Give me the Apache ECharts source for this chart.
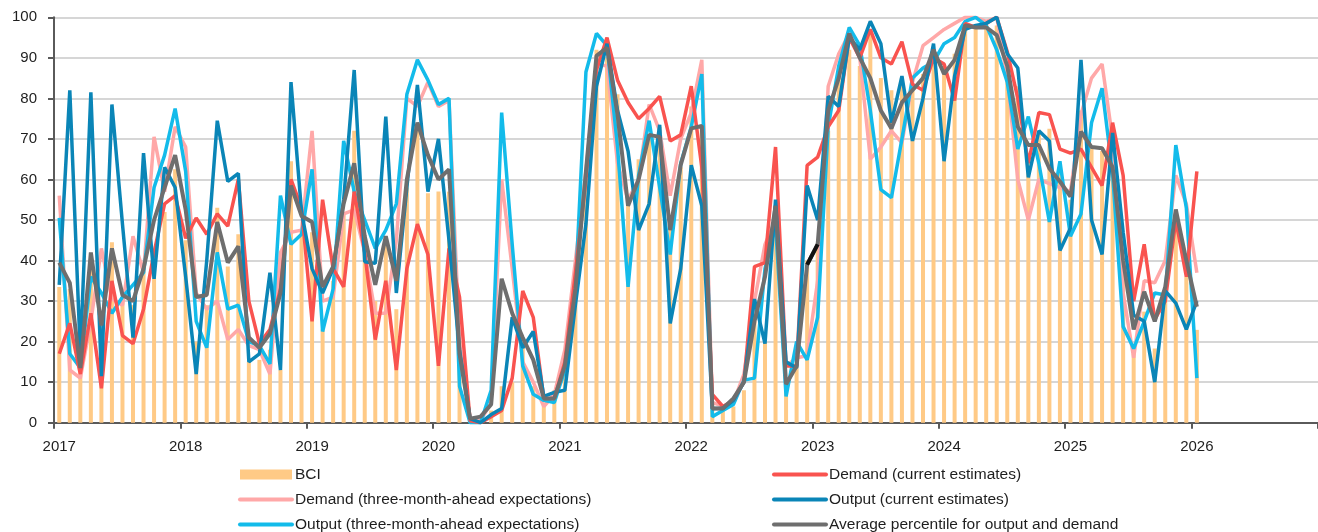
<!DOCTYPE html>
<html>
<head>
<meta charset="utf-8">
<script src="https://cdn.jsdelivr.net/npm/echarts@6/dist/echarts.min.js"></script>
<style>
html,body{margin:0;padding:0;background:#fff;}
#chart{width:1318px;height:532px;}
</style>
</head>
<body>
<div id="chart"></div>
<script>
// ---- data (monthly, Jan 2017 .. Jan 2026) ----
const years = ['2017','2018','2019','2020','2021','2022','2023','2024','2025','2026'];
const months = ['01','02','03','04','05','06','07','08','09','10','11','12'];

const bci = [33.5,33,14,40,25,44.5,31,29,38,37,52,62.5,
  45,20,29,53,38.5,46.5,15,15.5,18,13,64.5,47.5,
  47,23,35,51.5,72,45,30,45,28,58,73,56.6,
  57,57,20,0.5,0.5,3,9,10,20,9,5,8,
  17,36,60,92,90,81,55,65,70,73,48,63,
  78,73,4,3,4,8,25,20,53,10,15,40,
  44,72,85,92,88,97,85,82,85,83,86,89,
  88,91,97,98,98.5,98,88,83,65,72,72.5,64,
  55,77,68,67,62,40,17,27.4,18.3,33,51.6,36,
  22.9];

const demandCurrent = [17,24.5,12,27,8.5,35,21.5,19.5,28,42,54,56,
  45.5,50.5,46.5,51.5,48.5,60,30,19.5,23,33,60,53,
  25,55,38,33.5,57,42,20.5,35,13,38,49,41.5,
  14,43,31,0.5,0,1.5,3,11,32.5,26,6,6,
  15,37,60,87,95,84.5,79,75,77.5,80.5,69.5,71,
  83,63,7,4,5.5,10,38.5,39.5,68,14,14,63.5,
  65.5,73,77,95,90,97,90,88.5,94,83.5,82,90,
  88.5,79.5,98.5,97.5,98.5,100,91.5,80,64,76.5,76,67.5,
  66.5,67.5,63,58.5,74,61,30,44,25.5,30,50,36,
  62];

const demandAhead = [56,13,11,25,43,30.5,29,46,37,70.5,57,73,
  68,32,28,30,20.5,23,19,18,12,42,47,47.5,
  72,30,31,51.5,52.5,42,27,27,45,80,78,84,
  78,79.5,20,1,0.5,5,60,38,15,10,4,7,
  18,40,62,88.5,88,64,55,60,78.5,72,56,70,
  76.5,89.5,5,4,5,12,30,44,50,14,16,16.5,
  35,83,91,96,90,65,68,72,69,84,93,95,
  97,98.5,100,100,99,100,85,60,50,60,59,58,
  57,76,85,88.5,70,32,16,35,34.5,40,61,54,
  37];

const outputCurrent = [34,82,17,81.5,11.5,78.5,49,21,66.5,35.5,63,58,
  36,12,40,74.5,59.5,61.5,15,17,37,13,84,52,
  38,32,38,55,87,39.7,39.3,75.5,32,58,83.3,57,
  70,45,18,1,0,2,3.5,26,18.5,22.5,6.5,7.5,
  8,29,49,83,93.5,77,67,47.5,54,73.5,24.5,38,
  63.5,53.5,3.5,3.5,5.5,10,30.5,19.5,55,15,13.5,58.5,
  50,80.5,78,95,92,99,93.5,74,85.5,69.5,80,93.5,
  64.5,85.5,97,98,98.5,100,91,87.5,60.5,72,69.5,42.5,
  48,89.5,50,41.5,71.5,47,26.5,25,10,32.5,29.5,23,
  30];

const outputAhead = [50.5,17,13.5,36,32,27,31,34,37,58,66,77.5,
  62,25,18.5,42,28,29,20,19,14.5,56,44,46.5,
  62.5,22.5,33,69.5,57,50,43,47.5,54,81,89.5,84.5,
  78.5,80,9,0,0,8,76.5,44,14,7,5.5,5,
  13,33,86.5,96,93,68,33.5,61,74.5,58,41.5,64,
  73,86,1.5,3,4.5,10.5,11,38,49,6.5,20,15.5,
  26,73,88,97.5,93,77,57.5,55.5,70,85,87.5,89,
  93.5,95,99,100,98,92,84,67.5,75.5,64,49.5,64.5,
  46,51.5,74,82.5,61.5,23.7,18.3,25,32,31.5,68.5,53,
  11];

const avgPercentile = [39.5,34.5,13.5,42,24,43,31.5,30,38,50,58,66,
  52.5,31,31.5,49.5,39.5,43.5,21,18.5,22,32,58.5,51,
  49.5,33.5,38.5,54,64,46,34,46,35,60,74,66,
  60,62.5,17,1,1.5,4.5,35.5,27,21,15.5,6,6,
  14,33,62,90.5,92.5,76,53.5,60,71,70.5,47.5,63.6,
  72.6,73.2,3.5,3.5,6,10,25,36,53.5,9.5,14,39,
  44,77,85,96,90,85,77,72.6,79,82,85,92,
  86,89.5,98,97.5,97.5,95.6,88,73,68.5,68.5,62.7,59.5,
  55.8,71.8,68,67.7,63,40,23,32.3,25,33.5,52.6,40,
  28.6];

// the average line is drawn black between these two months in the source
const avgBlackFrom = '2022-12';
const avgBlackTo = '2023-01';

// category axis: every month Jan 2017 .. Dec 2026
const categories = [];
years.forEach(y => months.forEach(m => categories.push(y + '-' + m)));

const FONT = '"Liberation Sans", Arial, sans-serif';
const TXT = '#1e1e1e';

const C_BCI = '#FFCA86';
const C_DC = '#F9534F';
const C_DA = '#FFA8A8';
const C_OC = '#0A85B7';
const C_OA = '#13BBEA';
const C_AV = '#6E6E6E';

const chart = echarts.init(document.getElementById('chart'), null, {renderer: 'canvas'});

function lineSeries(name, data, color, width, z) {
  return {
    name: name, type: 'line', data: data, symbol: 'none', z: z,
    lineStyle: {color: color, width: width},
    itemStyle: {color: color},
    emphasis: {disabled: true}
  };
}

const hidden = {opacity: 0};
const legendCommon = {
  orient: 'vertical',
  itemWidth: 52,
  itemHeight: 10,
  itemGap: 8,
  height: 120,
  textStyle: {fontFamily: FONT, fontSize: 15.5, color: TXT, lineHeight: 17, padding: [0,0,0,-2]},
  padding: 0,
  selectedMode: false,
  lineStyle: {width: 4, cap: 'round'}
};

const bFrom = categories.indexOf(avgBlackFrom);
const bTo = categories.indexOf(avgBlackTo);
const avgBlack = avgPercentile.map((v, i) => (i >= bFrom && i <= bTo) ? v : null);

chart.setOption({
  animation: false,
  backgroundColor: '#fff',
  grid: {left: 54, right: -6, top: 17.3, bottom: 109.3, containLabel: false},
  legend: [
    Object.assign({}, legendCommon, {left: 238, top: 466, data: [
      {name: 'BCI', icon: 'rect'},
      {name: 'Demand (three-month-ahead expectations)', itemStyle: hidden},
      {name: 'Output (three-month-ahead expectations)', itemStyle: hidden}
    ]}),
    Object.assign({}, legendCommon, {left: 772, top: 466, data: [
      {name: 'Demand (current estimates)', itemStyle: hidden},
      {name: 'Output (current estimates)', itemStyle: hidden},
      {name: 'Average percentile for output and demand', itemStyle: hidden}
    ]})
  ],
  xAxis: {
    type: 'category',
    data: categories,
    boundaryGap: true,
    axisLine: {lineStyle: {color: '#5a5a5a', width: 2}},
    axisTick: {show: true, interval: 11, length: 6, lineStyle: {color: '#5a5a5a', width: 2}},
    axisLabel: {
      interval: 11, margin: 17, fontFamily: FONT, fontSize: 15, color: TXT,
      formatter: v => v.slice(0, 4)
    },
    splitLine: {show: false}
  },
  yAxis: {
    type: 'value', min: 0, max: 100, interval: 10,
    axisLine: {show: true, lineStyle: {color: '#5a5a5a', width: 2}},
    axisTick: {show: true, length: 6, lineStyle: {color: '#5a5a5a', width: 2}},
    axisLabel: {margin: 17, fontFamily: FONT, fontSize: 15, color: TXT},
    splitLine: {show: true, lineStyle: {color: '#c8c8c8', width: 1.5}}
  },
  series: [
    {name: 'BCI', type: 'bar', data: bci, barWidth: 4, z: 1,
     itemStyle: {color: C_BCI}, emphasis: {disabled: true}},
    lineSeries('Demand (three-month-ahead expectations)', demandAhead, C_DA, 3.5, 2),
    lineSeries('Output (three-month-ahead expectations)', outputAhead, C_OA, 3.5, 3),
    lineSeries('Demand (current estimates)', demandCurrent, C_DC, 3.5, 4),
    lineSeries('Output (current estimates)', outputCurrent, C_OC, 3.5, 5),
    lineSeries('Average percentile for output and demand', avgPercentile, C_AV, 4, 6),
    lineSeries('avg-segment', avgBlack, '#111111', 4, 7)
  ]
});
</script>
</body>
</html>
